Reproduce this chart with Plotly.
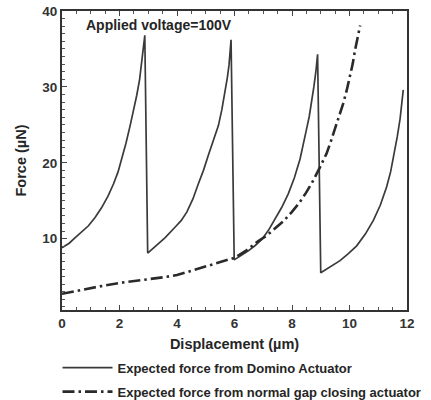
import plotly.graph_objects as go

# Displacement (um) and force (uN)
domino_x = [0.00, 0.25, 0.45, 0.70, 0.92, 1.15, 1.38, 1.60, 1.79, 1.95,
            2.07, 2.22, 2.37, 2.50, 2.60, 2.70, 2.77, 2.83, 2.88, 2.98,
            3.25, 3.58, 3.93, 4.15, 4.34, 4.55, 4.74, 4.92, 5.09, 5.27,
            5.44, 5.56, 5.67, 5.75, 5.81, 5.85, 5.88, 5.99,
            6.25, 6.48, 6.72, 6.95, 7.18, 7.41, 7.64, 7.87, 8.08, 8.28,
            8.40, 8.51, 8.60, 8.69, 8.76, 8.83, 8.89, 9.00,
            9.30, 9.67, 9.95, 10.25, 10.55, 10.83, 11.07, 11.29, 11.43,
            11.55, 11.66, 11.76, 11.82, 11.87]
domino_y = [8.8, 9.4, 10.1, 10.9, 11.7, 12.8, 14.1, 15.6, 17.2, 18.8,
            20.4, 22.5, 24.9, 27.0, 28.9, 31.0, 33.0, 35.0, 36.8, 8.1,
            9.0, 10.1, 11.5, 12.4, 13.5, 15.2, 17.2, 19.0, 21.0, 22.9,
            24.9, 27.0, 29.3, 31.2, 32.9, 34.6, 36.2, 7.2,
            7.8, 8.4, 9.1, 9.9, 11.1, 12.6, 14.1, 15.9, 18.0, 20.5,
            22.4, 24.5, 26.1, 28.0, 30.0, 32.0, 34.3, 5.5,
            6.2, 7.1, 8.0, 9.05, 10.6, 12.4, 14.4, 16.8, 18.8,
            21.0, 23.4, 25.8, 27.7, 29.6]

gap_x = [0.00, 0.50, 0.92, 1.50, 2.08, 2.65, 3.23, 3.60, 4.00, 4.55,
         5.09, 5.55, 6.02, 6.43, 6.83, 7.12, 7.41, 7.70, 7.99, 8.25,
         8.48, 8.73, 8.97, 9.20, 9.35, 9.50, 9.65, 9.78, 9.90, 10.02,
         10.11, 10.19, 10.28, 10.37]
gap_y = [2.74, 3.1, 3.5, 3.85, 4.2, 4.45, 4.7, 4.95, 5.2, 5.8,
         6.4, 6.9, 7.5, 8.5, 9.7, 10.4, 11.3, 12.3, 13.5, 14.7,
         16.0, 17.6, 19.4, 21.2, 22.8, 24.5, 26.1, 27.8, 29.5, 31.3,
         33.0, 34.8, 36.5, 38.1]

x_ticks = [0, 2, 4, 6, 8, 10, 12]
y_ticks = [10, 20, 30, 40]

names = ["Expected force from Domino Actuator",
         "Expected force from normal gap closing actuator"]
annotation_text = "Applied voltage=100V"

FONT = "Liberation Sans, Arial, Helvetica, sans-serif"
INK = "#252525"

fig = go.Figure()
fig.add_trace(go.Scatter(x=domino_x, y=domino_y, mode="lines", name=names[0],
                         legendgroup="a",
                         line=dict(color="#3a3a3a", width=1.7)))
fig.add_trace(go.Scatter(x=gap_x, y=gap_y, mode="lines", name=names[1],
                         legendgroup="b",
                         line=dict(color="#2a2a2a", width=2.6,
                                   dash="12px,4px,2.5px,4px")))

fig.add_annotation(x=0.065, y=0.987, xref="paper", yref="paper",
                   xanchor="left", yanchor="top", showarrow=False,
                   text=annotation_text,
                   font=dict(family=FONT, size=14, color=INK, weight="bold"))

axis_common = dict(showgrid=False, zeroline=False, linecolor="#333333",
                   linewidth=2, ticks="inside", tickcolor="#444444",
                   tickwidth=1, ticklen=5,
                   tickfont=dict(family=FONT, size=13.5, color="#333333",
                                 weight="bold"))

fig.update_xaxes(range=[0, 12], tickvals=x_ticks, mirror="ticks",
                 minor=dict(dtick=0.5, ticks="inside", ticklen=3,
                            tickcolor="#555555"),
                 title=dict(text="Displacement (\u00b5m)", standoff=9,
                            font=dict(family=FONT, size=14.5, color=INK,
                                      weight="bold")),
                 **axis_common)
fig.update_yaxes(range=[0.6, 40], tickvals=y_ticks, mirror=True,
                 minor=dict(dtick=1, ticks="inside", ticklen=3,
                            tickcolor="#555555"),
                 title=dict(text="Force (\u00b5N)", standoff=12,
                            font=dict(family=FONT, size=14.5, color=INK,
                                      weight="bold")),
                 **axis_common)

fig.update_layout(
    width=431, height=400,
    margin=dict(l=62, r=24, t=11, b=90, autoexpand=False),
    paper_bgcolor="white", plot_bgcolor="white",
    showlegend=True,
    legend=dict(x=-0.013, y=-0.143, xanchor="left", yanchor="top",
                orientation="v", bgcolor="rgba(0,0,0,0)",
                traceorder="grouped", tracegroupgap=4,
                font=dict(family=FONT, size=13, color=INK, weight="bold"),
                itemwidth=50),
)

fig.write_html("out.html")
